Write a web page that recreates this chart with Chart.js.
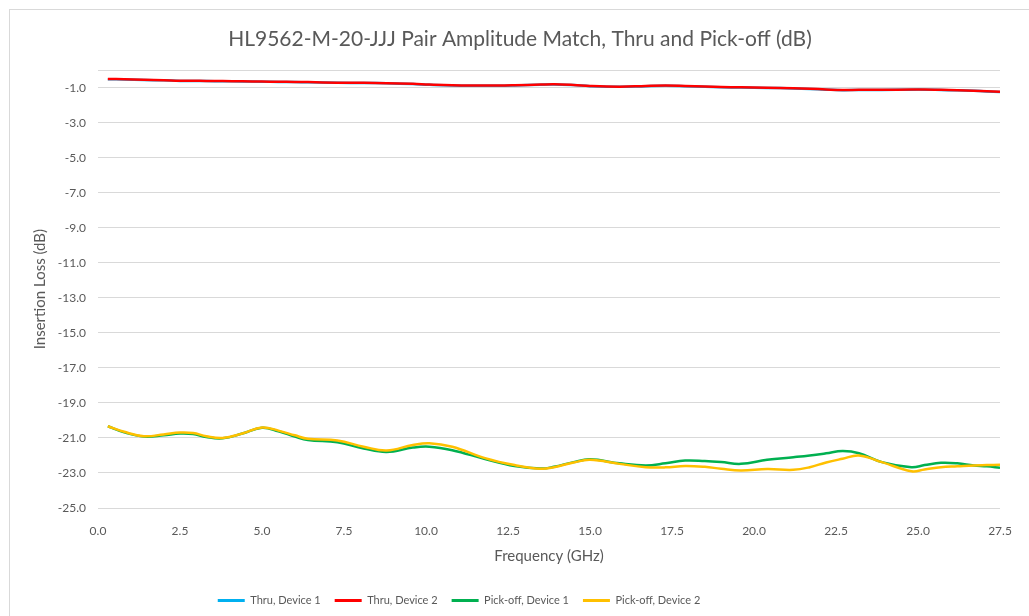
<!DOCTYPE html>
<html>
<head>
<meta charset="utf-8">
<script src="https://cdn.jsdelivr.net/npm/chart.js@4.4.1/dist/chart.umd.min.js"></script>
<style>
  html, body { margin: 0; padding: 0; background: #fff; }
  #wrap { position: relative; width: 1029px; height: 616px; overflow: hidden; }
  #frame { position: absolute; left: 9px; top: 9px; width: 1040px; height: 640px; border: 1px solid #d9d9d9; }
  #chart { position: absolute; left: 0; top: 0; }
</style>
</head>
<body>
<div id="wrap">
  <div id="frame"></div>
  <canvas id="chart" width="1029" height="616"></canvas>
</div>
<script>
// frequency points (GHz)
const freqGHz = [0.3, 0.8, 1.4, 2.0, 2.5, 2.9, 3.3, 3.8, 4.4, 5.0, 5.5, 6.0, 6.4, 7.3, 8.1, 8.8, 9.6, 10.1, 10.8, 11.8,
  12.7, 13.5, 13.9, 14.5, 15.0, 15.9, 16.7, 17.3, 17.9, 18.5, 19.0, 19.6, 20.4, 21.2, 21.7, 22.2, 22.7, 23.2, 23.9,
  24.8, 25.2, 25.7, 26.2, 26.7, 27.1, 27.5];

// insertion loss (dB)
const thruDev1 = [-0.51, -0.53, -0.56, -0.58, -0.61, -0.61, -0.62, -0.63, -0.64, -0.66, -0.67, -0.68, -0.69, -0.72, -0.73, -0.75, -0.79, -0.83, -0.87, -0.89,
  -0.87, -0.83, -0.81, -0.85, -0.91, -0.95, -0.91, -0.89, -0.91, -0.94, -0.97, -0.99, -1.01, -1.04, -1.07, -1.11, -1.14, -1.13, -1.13,
  -1.11, -1.11, -1.13, -1.15, -1.18, -1.21, -1.24];
const thruDev2 = [-0.50, -0.52, -0.55, -0.57, -0.60, -0.60, -0.61, -0.62, -0.63, -0.65, -0.66, -0.67, -0.68, -0.71, -0.72, -0.74, -0.78, -0.82, -0.86, -0.88,
  -0.86, -0.82, -0.80, -0.84, -0.90, -0.94, -0.90, -0.88, -0.90, -0.93, -0.96, -0.98, -1.00, -1.03, -1.06, -1.10, -1.13, -1.12, -1.12,
  -1.10, -1.10, -1.12, -1.14, -1.17, -1.20, -1.23];
const pickDev1 = [-20.33, -20.68, -20.92, -20.85, -20.75, -20.78, -20.95, -21.02, -20.75, -20.42, -20.62, -20.92, -21.12, -21.25, -21.60, -21.80, -21.55, -21.50, -21.70, -22.20,
  -22.60, -22.75, -22.65, -22.38, -22.22, -22.45, -22.57, -22.45, -22.29, -22.32, -22.38, -22.48, -22.25, -22.10, -22.00, -21.88, -21.75, -21.87, -22.38,
  -22.67, -22.55, -22.42, -22.45, -22.57, -22.62, -22.70];
const pickDev2 = [-20.33, -20.65, -20.90, -20.80, -20.69, -20.72, -20.90, -21.00, -20.75, -20.40, -20.58, -20.85, -21.05, -21.15, -21.50, -21.72, -21.40, -21.30, -21.50, -22.15,
  -22.55, -22.76, -22.67, -22.40, -22.25, -22.48, -22.67, -22.68, -22.60, -22.65, -22.76, -22.86, -22.78, -22.82, -22.67, -22.40, -22.19, -22.00, -22.38,
  -22.90, -22.80, -22.67, -22.62, -22.57, -22.55, -22.53];

const yTicks = [-25, -23, -21, -19, -17, -15, -13, -11, -9, -7, -5, -3, -1, 0];

const txt = "#595959";
const grid = "#d9d9d9";
const font = "Lato, 'Open Sans', sans-serif";

function series(label, values, color, order) {
  return {
    label: label,
    data: freqGHz.map((f, i) => ({ x: f, y: values[i] })),
    borderColor: color,
    backgroundColor: color,
    borderWidth: 2.5,
    pointRadius: 0,
    tension: 0.4,
    order: order
  };
}

// nudge title and legend sideways like the original layout
const shiftBlocks = {
  id: "shiftBlocks",
  afterLayout(chart) {
    chart.titleBlock.left += 20;
    chart.titleBlock.right += 20;
    chart.legend.left -= 41;
    chart.legend.right -= 41;
  }
};

new Chart(document.getElementById("chart").getContext("2d"), {
  type: "line",
  data: {
    datasets: [
      series("Thru, Device 1", thruDev1, "#00B0F0", 4),
      series("Thru, Device 2", thruDev2, "#FF0000", 3),
      series("Pick-off, Device 1", pickDev1, "#00B050", 2),
      series("Pick-off, Device 2", pickDev2, "#FFC000", 1)
    ]
  },
  plugins: [shiftBlocks],
  options: {
    responsive: false,
    animation: false,
    layout: { padding: { left: 0, right: 29, top: 0, bottom: 0 } },
    plugins: {
      tooltip: { enabled: false },
      title: {
        display: true,
        text: "HL9562-M-20-JJJ Pair Amplitude Match, Thru and Pick-off (dB)",
        color: txt,
        font: { family: font, size: 21, weight: "normal" },
        padding: { top: 27, bottom: 18 }
      },
      legend: {
        position: "bottom",
        labels: {
          color: txt,
          font: { family: font, size: 11 },
          boxWidth: 27,
          boxHeight: 3,
          padding: 14,
          generateLabels(chart) {
            return chart.data.datasets.map((d, i) => ({
              text: d.label,
              fillStyle: d.borderColor,
              strokeStyle: d.borderColor,
              lineWidth: 0,
              fontColor: txt,
              datasetIndex: i
            }));
          }
        }
      }
    },
    scales: {
      x: {
        type: "linear",
        min: 0,
        max: 27.5,
        grid: { display: false },
        border: { display: false },
        ticks: {
          stepSize: 2.5,
          color: txt,
          font: { family: font, size: 12 },
          maxRotation: 0,
          padding: 8,
          callback: v => v.toFixed(1)
        },
        title: {
          display: true,
          text: "Frequency (GHz)",
          color: txt,
          font: { family: font, size: 15 },
          padding: { top: 6, bottom: 16 }
        },
        afterFit(scale) { scale.height = 73; }
      },
      y: {
        type: "linear",
        min: -25,
        max: 0,
        grid: { color: grid, lineWidth: 1, drawTicks: false },
        border: { display: false },
        afterBuildTicks(scale) { scale.ticks = yTicks.map(v => ({ value: v })); },
        ticks: {
          color: txt,
          font: { family: font, size: 12 },
          padding: 12,
          callback: v => (v === 0 ? "" : v.toFixed(1))
        },
        title: {
          display: true,
          text: "Insertion Loss (dB)",
          color: txt,
          font: { family: font, size: 15 },
          padding: { top: 31, bottom: 0 }
        },
        afterFit(scale) { scale.width = 98; }
      }
    }
  }
});
</script>
</body>
</html>
